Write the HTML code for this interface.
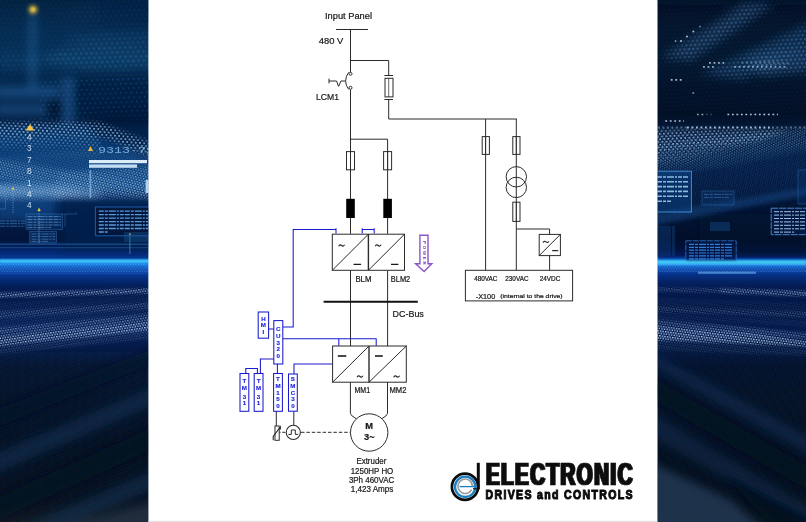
<!DOCTYPE html>
<html lang="en">
<head>
<meta charset="utf-8">
<title>Drive single-line diagram</title>
<style>
html,body{margin:0;padding:0;background:#fff;}
body{width:806px;height:522px;overflow:hidden;position:relative;font-family:"Liberation Sans",sans-serif;}
#stage{position:absolute;left:0;top:0;width:806px;height:522px;display:block;}
.k{stroke:#2b2b2b;fill:none;}
.b{stroke:#1a1ace;fill:none;stroke-width:1.05;}
.p{stroke:#8a55c6;fill:none;}
text{font-family:"Liberation Sans",sans-serif;}
.dg text{fill:#1a1a1a;stroke:#1a1a1a;stroke-width:0.22px;}
.t9{font-size:9.3px;}
.t8{font-size:8.2px;}
.dg .bt text{font-size:6.2px;font-weight:bold;fill:#2424e0;stroke:#2424e0;stroke-width:0.15px;text-anchor:middle;}
.dg .pw text{fill:#6a3cc0;stroke:none;}
.lg text{font-family:"Liberation Sans",sans-serif;font-weight:bold;fill:#0a0a0a;}
</style>
</head>
<body>
<svg id="stage" width="806" height="522" viewBox="0 0 806 522">
<defs>
<clipPath id="clipL"><rect x="0" y="0" width="148.6" height="522"/></clipPath>
<clipPath id="clipR"><rect x="657.3" y="0" width="148.7" height="522"/></clipPath>
<linearGradient id="gL" x1="0" y1="0" x2="0" y2="522" gradientUnits="userSpaceOnUse">
<stop offset="0.0000" stop-color="#03203f"/>
<stop offset="0.0575" stop-color="#052a50"/>
<stop offset="0.1149" stop-color="#063058"/>
<stop offset="0.1628" stop-color="#032246"/>
<stop offset="0.2107" stop-color="#021632"/>
<stop offset="0.2299" stop-color="#031c40"/>
<stop offset="0.2452" stop-color="#062e5e"/>
<stop offset="0.2682" stop-color="#083a72"/>
<stop offset="0.3161" stop-color="#093e7a"/>
<stop offset="0.3544" stop-color="#0a4686"/>
<stop offset="0.3793" stop-color="#062e66"/>
<stop offset="0.3946" stop-color="#042252"/>
<stop offset="0.4119" stop-color="#031a46"/>
<stop offset="0.4598" stop-color="#02143a"/>
<stop offset="0.4732" stop-color="#03205a"/>
<stop offset="0.4847" stop-color="#042a78"/>
<stop offset="0.4943" stop-color="#06388f"/>
<stop offset="0.4977" stop-color="#1a8ae0"/>
<stop offset="0.5004" stop-color="#3cc4f4"/>
<stop offset="0.5031" stop-color="#1a8eea"/>
<stop offset="0.5077" stop-color="#0f70d6"/>
<stop offset="0.5134" stop-color="#0c54ba"/>
<stop offset="0.5211" stop-color="#0a44a8"/>
<stop offset="0.5287" stop-color="#07348a"/>
<stop offset="0.5402" stop-color="#04266a"/>
<stop offset="0.5517" stop-color="#031c54"/>
<stop offset="0.5747" stop-color="#031a4c"/>
<stop offset="0.6322" stop-color="#042058"/>
<stop offset="0.6705" stop-color="#041a46"/>
<stop offset="0.6992" stop-color="#03132e"/>
<stop offset="0.7663" stop-color="#031025"/>
<stop offset="0.8621" stop-color="#020e1f"/>
<stop offset="0.9579" stop-color="#040e1d"/>
<stop offset="1.0000" stop-color="#0e151d"/>
</linearGradient>
<linearGradient id="gR" x1="0" y1="0" x2="0" y2="522" gradientUnits="userSpaceOnUse">
<stop offset="0.0000" stop-color="#031026"/>
<stop offset="0.0575" stop-color="#04162e"/>
<stop offset="0.1149" stop-color="#041830"/>
<stop offset="0.1724" stop-color="#03122a"/>
<stop offset="0.2203" stop-color="#021026"/>
<stop offset="0.2395" stop-color="#031634"/>
<stop offset="0.2682" stop-color="#031c44"/>
<stop offset="0.3161" stop-color="#031c46"/>
<stop offset="0.3544" stop-color="#03183e"/>
<stop offset="0.3927" stop-color="#021536"/>
<stop offset="0.4310" stop-color="#021230"/>
<stop offset="0.4598" stop-color="#020e2a"/>
<stop offset="0.4789" stop-color="#021240"/>
<stop offset="0.4904" stop-color="#031c60"/>
<stop offset="0.4958" stop-color="#0a4cac"/>
<stop offset="0.4981" stop-color="#1484dc"/>
<stop offset="0.5015" stop-color="#3cc8f4"/>
<stop offset="0.5061" stop-color="#1a8ae6"/>
<stop offset="0.5096" stop-color="#0f66d0"/>
<stop offset="0.5144" stop-color="#0b4cb2"/>
<stop offset="0.5211" stop-color="#093c9c"/>
<stop offset="0.5287" stop-color="#062e80"/>
<stop offset="0.5402" stop-color="#042262"/>
<stop offset="0.5517" stop-color="#031a50"/>
<stop offset="0.5939" stop-color="#031644"/>
<stop offset="0.6418" stop-color="#041c50"/>
<stop offset="0.6705" stop-color="#03163e"/>
<stop offset="0.6992" stop-color="#02102a"/>
<stop offset="0.7663" stop-color="#031023"/>
<stop offset="0.8621" stop-color="#020d1d"/>
<stop offset="0.9579" stop-color="#030d1a"/>
<stop offset="1.0000" stop-color="#060e18"/>
</linearGradient>
<filter id="bl05" x="-40%" y="-40%" width="180%" height="180%"><feGaussianBlur stdDeviation="0.5"/></filter>
<filter id="bl1" x="-40%" y="-40%" width="180%" height="180%"><feGaussianBlur stdDeviation="0.8"/></filter>
<filter id="bl2" x="-40%" y="-40%" width="180%" height="180%"><feGaussianBlur stdDeviation="2"/></filter>
<filter id="bl3" x="-40%" y="-40%" width="180%" height="180%"><feGaussianBlur stdDeviation="3"/></filter>
<filter id="bl4" x="-40%" y="-40%" width="180%" height="180%"><feGaussianBlur stdDeviation="4"/></filter>
<filter id="bl6" x="-40%" y="-40%" width="180%" height="180%"><feGaussianBlur stdDeviation="6"/></filter>
<filter id="bl8" x="-40%" y="-40%" width="180%" height="180%"><feGaussianBlur stdDeviation="8"/></filter>
<filter id="fat1" filterUnits="userSpaceOnUse" x="480" y="455" width="165" height="55"><feMorphology operator="dilate" radius="1.2 0.3"/></filter>
<filter id="fat2" filterUnits="userSpaceOnUse" x="480" y="455" width="165" height="55"><feMorphology operator="dilate" radius="0.6 0.15"/></filter>
<pattern id="pBokeh" width="5.2" height="9.2" patternUnits="userSpaceOnUse" patternTransform="rotate(-2)"><rect x="0" y="0" width="2.4" height="2.4" fill="#3f9eda"/><rect x="2.6" y="4.6" width="2.4" height="2.4" fill="#3f9eda"/></pattern>
<pattern id="pSparse" width="5.2" height="9.2" patternUnits="userSpaceOnUse" patternTransform="rotate(-2)"><rect x="0" y="0" width="1.2" height="1.2" fill="#2f7fd6"/><rect x="2.6" y="4.6" width="1.2" height="1.2" fill="#2f7fd6"/></pattern>
<pattern id="pBig" width="4.25" height="5.5" patternUnits="userSpaceOnUse" patternTransform="rotate(4)"><rect x="0" y="0" width="1.7" height="1.6" fill="#a8d2f2"/><rect x="2.125" y="2.75" width="1.7" height="1.6" fill="#a8d2f2"/></pattern>
<pattern id="pFineL" width="2.8" height="4.6" patternUnits="userSpaceOnUse" patternTransform="rotate(14)"><rect x="0" y="0" width="1.4" height="1.3" fill="#cfe6fb"/><rect x="1.4" y="2.3" width="1.4" height="1.3" fill="#cfe6fb"/></pattern>
<pattern id="pHor" width="2.6" height="4.4" patternUnits="userSpaceOnUse" patternTransform=""><rect x="0" y="0" width="1.3" height="1.1" fill="#7cc4ff"/><rect x="1.3" y="2.2" width="1.3" height="1.1" fill="#7cc4ff"/></pattern>
<pattern id="pLowL" width="2.6" height="4.8" patternUnits="userSpaceOnUse" patternTransform="rotate(-9)"><rect x="0" y="0" width="1.5" height="1.4" fill="#c4e2ff"/><rect x="1.3" y="2.4" width="1.5" height="1.4" fill="#c4e2ff"/></pattern>
<pattern id="pFaintL" width="2.3" height="4.6" patternUnits="userSpaceOnUse" patternTransform="rotate(-14)"><rect x="0" y="0" width="1" height="1" fill="#4d90d8"/><rect x="1.15" y="2.3" width="1" height="1" fill="#4d90d8"/></pattern>
<pattern id="pBigR" width="2.6" height="4.6" patternUnits="userSpaceOnUse" patternTransform="rotate(-24)"><rect x="0" y="0" width="1.35" height="1.3" fill="#8cc2ec"/><rect x="1.3" y="2.3" width="1.35" height="1.3" fill="#8cc2ec"/></pattern>
<pattern id="pFineR" width="2.6" height="4.4" patternUnits="userSpaceOnUse" patternTransform="rotate(-17)"><rect x="0" y="0" width="1.1" height="1.1" fill="#4f98dc"/><rect x="1.3" y="2.2" width="1.1" height="1.1" fill="#4f98dc"/></pattern>
<pattern id="pLowR" width="2.6" height="4.8" patternUnits="userSpaceOnUse" patternTransform="rotate(8)"><rect x="0" y="0" width="1.5" height="1.4" fill="#c4e2ff"/><rect x="1.3" y="2.4" width="1.5" height="1.4" fill="#c4e2ff"/></pattern>
<pattern id="pBigR2" width="4.2" height="5.4" patternUnits="userSpaceOnUse" patternTransform="rotate(-3)"><rect x="0" y="0" width="1.7" height="1.6" fill="#bcdcf6"/><rect x="2.1" y="2.7" width="1.7" height="1.6" fill="#bcdcf6"/></pattern>
<pattern id="pFaintR" width="2.3" height="4.6" patternUnits="userSpaceOnUse" patternTransform="rotate(18)"><rect x="0" y="0" width="1" height="1" fill="#4d90d8"/><rect x="1.15" y="2.3" width="1" height="1" fill="#4d90d8"/></pattern>
<pattern id="pBokehR" width="4.4" height="8" patternUnits="userSpaceOnUse" patternTransform="rotate(-3)"><rect x="0" y="0" width="2.2" height="2.2" fill="#6aaae0"/><rect x="2.2" y="4" width="2.2" height="2.2" fill="#6aaae0"/></pattern>
<mask id="mL1" maskUnits="userSpaceOnUse" x="-10" y="-10" width="170" height="110"><g filter="url(#bl4)"><rect x="-10" y="-10" width="170" height="95" fill="#fff" opacity="0.12"/><ellipse cx="105" cy="58" rx="62" ry="12" fill="#fff" opacity="0.6"/><ellipse cx="115" cy="40" rx="50" ry="7" fill="#fff" opacity="0.4"/><ellipse cx="110" cy="14" rx="45" ry="8" fill="#fff" opacity="0.14"/><ellipse cx="15" cy="62" rx="30" ry="8" fill="#fff" opacity="0.22"/></g></mask>
<mask id="mL3" maskUnits="userSpaceOnUse" x="-10" y="110" width="170" height="70"><g filter="url(#bl2)"><path d="M-10 122H100L160 146V160L100 137H-10Z" fill="#fff" opacity="0.8"/><path d="M-10 137L100 137L100 148L-10 146Z" fill="#fff" opacity="0.45"/><path d="M-10 146L100 148L100 158L-10 152Z" fill="#fff" opacity="0.18"/></g></mask>
<mask id="mL4" maskUnits="userSpaceOnUse" x="-10" y="130" width="170" height="90"><g filter="url(#bl2)"><path d="M-10 156L160 146L160 200L-10 204Z" fill="#fff" opacity="0.2"/><path d="M-10 158L160 186L160 200L-10 178Z" fill="#fff" opacity="0.5"/><path d="M60 172L160 166L160 199L50 198Z" fill="#fff" opacity="0.5"/><path d="M-10 183L80 186L80 198L-10 199Z" fill="#fff" opacity="0.55"/></g></mask>
<mask id="mL6" maskUnits="userSpaceOnUse" x="-10" y="270" width="170" height="100"><g filter="url(#bl1)"><path d="M-10 293L160 288L160 293L-10 298Z" fill="#fff" opacity="0.8"/><path d="M-10 302L160 295L160 304L-10 312Z" fill="#fff" opacity="0.12"/><path d="M-10 312L160 302L160 308L-10 319Z" fill="#fff" opacity="0.4"/><path d="M-10 319L160 308L160 314L-10 327Z" fill="#fff" opacity="0.15"/><path d="M-10 328L160 313L160 320L-10 336Z" fill="#fff" opacity="0.55"/><path d="M-10 337L160 320L160 330L-10 347Z" fill="#fff" opacity="0.9"/><path d="M-10 347L160 331L160 338L-10 355Z" fill="#fff" opacity="0.25"/></g></mask>
<mask id="mR2" maskUnits="userSpaceOnUse" x="640" y="100" width="180" height="120"><g filter="url(#bl2)"><path d="M650 127L815 127L815 133L650 146Z" fill="#fff" opacity="0.3"/><path d="M650 146L815 128L815 144L650 170Z" fill="#fff" opacity="0.55"/><path d="M650 170L815 144L815 150L650 180Z" fill="#fff" opacity="0.25"/></g></mask>
<mask id="mR2c" maskUnits="userSpaceOnUse" x="640" y="100" width="180" height="120"><g filter="url(#bl2)"><path d="M650 130L790 130L760 141L650 152Z" fill="#fff" opacity="0.7"/><path d="M650 152L760 141L700 156L650 164Z" fill="#fff" opacity="0.35"/></g></mask>
<mask id="mR2b" maskUnits="userSpaceOnUse" x="640" y="120" width="180" height="130"><g filter="url(#bl3)"><path d="M650 168L815 144L815 190L650 228Z" fill="#fff" opacity="0.3"/></g></mask>
<mask id="mR4" maskUnits="userSpaceOnUse" x="640" y="270" width="180" height="100"><g filter="url(#bl1)"><path d="M720 288L815 291L815 297L720 293Z" fill="#fff" opacity="0.7"/><path d="M650 287L720 288L720 293L650 292Z" fill="#fff" opacity="0.35"/><path d="M650 297L815 303L815 312L650 306Z" fill="#fff" opacity="0.12"/><path d="M650 306L815 312L815 318L650 312Z" fill="#fff" opacity="0.35"/><path d="M650 313L815 320L815 327L650 319Z" fill="#fff" opacity="0.14"/><path d="M650 319L760 328L815 334L815 340L650 326Z" fill="#fff" opacity="0.5"/><path d="M650 326L750 333L815 342L815 347L650 340Z" fill="#fff" opacity="0.92"/><path d="M650 341L815 348L815 356L650 350Z" fill="#fff" opacity="0.2"/></g></mask>
<mask id="mR1" maskUnits="userSpaceOnUse" x="640" y="-10" width="180" height="140"><g filter="url(#bl4)"><path d="M660 58L745 5L775 5L690 62Z" fill="#fff" opacity="0.3"/><path d="M700 74L815 22L815 44L745 80Z" fill="#fff" opacity="0.28"/><path d="M745 64L815 48L815 72L765 76Z" fill="#fff" opacity="0.3"/><rect x="650" y="-10" width="170" height="130" fill="#fff" opacity="0.03"/></g></mask>
</defs>
<rect x="0" y="0" width="806" height="522" fill="#ffffff"/>
<g id="bgLeft" clip-path="url(#clipL)">
<rect x="0" y="0" width="149" height="522" fill="url(#gL)"/>
<g filter="url(#bl4)">
<rect x="100" y="-4" width="60" height="26" fill="#061f44" opacity="0.7"/>
<rect x="70" y="78" width="90" height="42" fill="#041d42" opacity="0.85"/>
<rect x="-5" y="86" width="64" height="12" fill="#1f62a4" opacity="0.6"/>
<rect x="-5" y="103" width="52" height="13" fill="#1f62a4" opacity="0.55"/>
<rect x="29.5" y="14" width="6" height="76" fill="#2768a6" opacity="0.55"/>
<rect x="62" y="78" width="11" height="46" fill="#1a5490" opacity="0.7"/>
</g>
<g mask="url(#mL1)"><rect x="0" y="0" width="150" height="84" fill="url(#pBokeh)" filter="url(#bl1)"/></g>
<rect x="40" y="78" width="110" height="42" fill="url(#pSparse)" opacity="0.45"/>
<circle cx="33" cy="9.6" r="4.2" fill="#d9b43c" filter="url(#bl2)"/><circle cx="33" cy="9.6" r="2" fill="#e8c84c" filter="url(#bl1)"/>
<path d="M92 112H152V158L92 134Z" fill="#021838" opacity="0.6" filter="url(#bl3)"/>
<g mask="url(#mL4)"><rect x="0" y="135" width="150" height="75" fill="url(#pFineL)"/></g>
<g mask="url(#mL3)"><rect x="0" y="118" width="150" height="50" fill="url(#pBig)"/></g>
<g filter="url(#bl4)"><path d="M-10 186L60 188L100 192L100 197L-10 197Z" fill="#9fd4ff" opacity="0.5"/></g>
<g filter="url(#bl4)">
<rect x="62" y="202" width="95" height="48" fill="#05234e" opacity="0.8"/>
<rect x="-5" y="198" width="60" height="24" fill="#1560a8" opacity="0.45"/>
</g>
<g font-size="9.4" text-anchor="middle" fill="#dcefff" opacity="0.9"><text x="29.4" y="140" textLength="4.6" lengthAdjust="spacingAndGlyphs">4</text><text x="29.4" y="151.4" textLength="4.6" lengthAdjust="spacingAndGlyphs">3</text><text x="29.4" y="162.8" textLength="4.6" lengthAdjust="spacingAndGlyphs">7</text><text x="29.4" y="174.2" textLength="4.6" lengthAdjust="spacingAndGlyphs">8</text><text x="29.4" y="185.6" textLength="4.6" lengthAdjust="spacingAndGlyphs">1</text><text x="29.4" y="197" textLength="4.6" lengthAdjust="spacingAndGlyphs">4</text><text x="29.4" y="208" textLength="4.6" lengthAdjust="spacingAndGlyphs">4</text></g>
<text x="98" y="153.4" font-size="9.6" fill="#8cc6ee" style="font-family:'Liberation Mono',monospace" textLength="56" lengthAdjust="spacingAndGlyphs" opacity="0.8">9313·71</text>
<path d="M25.8 130.4L30 124.2L34.4 130.4Z" fill="#f5c544"/>
<path d="M88 151L90.4 146L93 151Z" fill="#f0b63c"/>
<path d="M11.8 189.4L13 186.6L14.4 189.4Z" fill="#f1d04a"/>
<path d="M37.4 211L39 207.6L40.8 211Z" fill="#f1c040"/>
<rect x="89" y="160" width="58" height="3.2" fill="#e6f5ff" opacity="0.95"/>
<rect x="89" y="164.4" width="48" height="3.4" fill="#d5edff" opacity="0.9"/>
<rect x="89.6" y="170" width="1.6" height="28" fill="#9ccdf5" opacity="0.6"/>
<rect x="145.6" y="180" width="3" height="13" fill="#d5edff" opacity="0.8"/>
<path d="M152 207H95.4V235.8H152" fill="#021638" fill-opacity="0.85" stroke="#1f62b4" stroke-width="0.9"/>
<path d="M98.8 211.2H148M98.8 214.7H148M98.8 218.1H148M98.8 221.6H148M98.8 225H148M98.8 228.5H148M98.8 232H107.656" stroke="#62a8ee" stroke-width="1.3" stroke-dasharray="5 1 3 1 7 1 2 1 4 1" opacity="0.9" fill="none"/>
<rect x="26" y="214" width="36.4" height="15.4" fill="#0e4384" fill-opacity="0.4" stroke="#3f86cc" stroke-width="0.5" opacity="0.8"/>
<path d="M27.5 216.6H61M27.5 219.4H61M27.5 222.2H61M27.5 225H61M27.5 227.6H50.95" stroke="#7db6ea" stroke-width="0.8" stroke-dasharray="5 1 3 1 7 1 2 1 4 1" opacity="0.7" fill="none"/>
<rect x="29.8" y="231.4" width="26.6" height="11.6" fill="#0f4688" fill-opacity="0.5" stroke="#3f86cc" stroke-width="0.5" opacity="0.8"/>
<path d="M31.5 234H55M31.5 236.6H55M31.5 239.2H55M31.5 241.4H47.95" stroke="#6aa6e0" stroke-width="0.8" stroke-dasharray="5 1 3 1 7 1 2 1 4 1" opacity="0.6" fill="none"/>
<rect x="-2" y="187" width="7.4" height="22" fill="none" stroke="#4d8fd0" stroke-width="0.6" opacity="0.7"/>
<path d="M0 221H26M0 223.6H26M0 226.2H23.4" stroke="#6aa6e0" stroke-width="0.8" stroke-dasharray="5 1 3 1 7 1 2 1 4 1" opacity="0.5" fill="none"/>
<path d="M13 190V213M39 211V243" stroke="#7ab8f0" stroke-width="0.9" stroke-dasharray="1 1.4" opacity="0.8"/>
<path d="M62.4 214H76.5V212.6M65 214V227" stroke="#3c7fc4" stroke-width="0.6" fill="none" opacity="0.7"/>
<rect x="-5" y="259.5" width="160" height="6" fill="#1f86ee" opacity="0.4" filter="url(#bl1)"/>
<rect x="0" y="260" width="149" height="2.4" fill="#48d2f6" opacity="0.85" filter="url(#bl1)"/>
<rect x="0" y="243.6" width="149" height="1.2" fill="#2d78c8" opacity="0.55"/><rect x="0" y="247.2" width="149" height="1" fill="#2d78c8" opacity="0.45"/>
<rect x="129.4" y="234" width="1" height="20" fill="#5aa6e6" opacity="0.6"/><path d="M129.9 232.6l-1.3 2.2h2.6z" fill="#e2b23c"/>
<rect x="124" y="232" width="25" height="10" fill="#1a5a9c" opacity="0.35"/>
<rect x="0" y="262.5" width="149" height="11" fill="url(#pHor)" opacity="0.4"/>
<g mask="url(#mL6)"><rect x="0" y="284" width="150" height="78" fill="url(#pLowL)"/></g>
<rect x="0" y="352" width="149" height="170" fill="url(#pFaintL)" opacity="0.18"/>
<g filter="url(#bl4)">
<path d="M-10 412L160 346L160 360L-10 430Z" fill="#020e26" opacity="0.6"/>
<path d="M-10 456L160 384L160 402L-10 476Z" fill="#1c426c" opacity="0.38"/>
<path d="M-10 500L160 424L160 446L-10 524Z" fill="#020c22" opacity="0.6"/>
<path d="M-10 540L160 468L160 486L-10 560Z" fill="#1d3c60" opacity="0.45"/>
<path d="M30 535L160 500L160 535Z" fill="#34465c" opacity="0.45"/>
</g>
</g>
<g id="bgRight" clip-path="url(#clipR)">
<rect x="657" y="0" width="149" height="522" fill="url(#gR)"/>
<g filter="url(#bl4)">
<path d="M662 56L742 5L772 5L690 60Z" fill="#2a5a90" opacity="0.3"/>
<path d="M700 74L810 22L810 44L742 80Z" fill="#24548c" opacity="0.3"/>
<path d="M745 60L810 46L810 70L762 76Z" fill="#2a5686" opacity="0.4"/>
<path d="M657 -5H810V5H657Z" fill="#04152e" opacity="0.6"/>
</g>
<g mask="url(#mR1)"><rect x="657" y="0" width="150" height="122" fill="url(#pBokehR)" filter="url(#bl05)"/></g>
<g stroke="#cfe6fb" stroke-width="1.7" stroke-dasharray="1.8 2.7" fill="none">
<path d="M709 62.8H724" opacity="0.75"/><path d="M741.5 62.8H789" opacity="0.3"/>
<path d="M703 66.8H714" opacity="0.7"/><path d="M734 66.8H786" opacity="0.6"/>
<path d="M670.8 79.8H683" opacity="0.8"/><path d="M692.4 93H694.2" opacity="0.6"/>
<path d="M697 114.5H706" opacity="0.7"/><path d="M706 114.5H712" opacity="0.25"/><path d="M727.4 114.5H778" opacity="0.85"/>
<path d="M665.3 121H684" opacity="0.85"/>
<path d="M687 127.6H772" opacity="0.8" stroke-width="2"/><path d="M772 127.6H806" opacity="0.4" stroke-width="2"/><path d="M658 127.6H687" opacity="0.35" stroke-width="2"/>
</g>
<g fill="#cfe6fb"><circle cx="681" cy="41" r="1" opacity="0.8"/><circle cx="687" cy="36.4" r="1" opacity="0.8"/><circle cx="693.4" cy="31.4" r="1" opacity="0.8"/><circle cx="700" cy="26.6" r="0.9" opacity="0.6"/><circle cx="675.6" cy="41" r="0.9" opacity="0.6"/></g>
<g mask="url(#mR2b)"><rect x="650" y="130" width="160" height="110" fill="url(#pFineR)"/></g>
<g mask="url(#mR2)"><rect x="650" y="118" width="160" height="87" fill="url(#pBigR)"/></g>
<g mask="url(#mR2c)"><rect x="650" y="125" width="160" height="45" fill="url(#pBigR2)"/></g>
<g filter="url(#bl4)">
<rect x="700" y="214" width="120" height="42" fill="#020f2c" opacity="0.6"/>
</g>
<path d="M650 214L815 186L815 194L650 226Z" fill="#1a5aa4" opacity="0.35" filter="url(#bl2)"/>
<rect x="652" y="171.2" width="39.4" height="40.8" fill="#0b4890" fill-opacity="0.5" stroke="#4f9ee6" stroke-width="0.9" opacity="0.9"/>
<path d="M657 177H688M657 181.8H688M657 186.6H688M657 191.4H688M657 196.2H688M657 201.2H670.95" stroke="#9fd4f6" stroke-width="1.6" stroke-dasharray="5 1 3 1 7 1 2 1 4 1" opacity="0.85" fill="none"/>
<rect x="702" y="191" width="32" height="14" fill="#12488c" fill-opacity="0.35" stroke="#2f72b8" stroke-width="0.6" opacity="0.7"/>
<path d="M704 194.4H732M704 197.4H729.2" stroke="#4f94d8" stroke-width="0.9" stroke-dasharray="5 1 3 1 7 1 2 1 4 1" opacity="0.5" fill="none"/>
<rect x="771.2" y="208.2" width="40" height="26.5" fill="#031a48" stroke="#5a9ee0" stroke-width="0.9" stroke-dasharray="7 1" opacity="0.9"/>
<path d="M774 211.7H808M774 215.1H808M774 218.5H808M774 221.9H808M774 225.3H808M774 228.8H808M774 232.1H795.08" stroke="#c0e0f8" stroke-width="1" stroke-dasharray="5 1 3 1 7 1 2 1 4 1" opacity="0.85" fill="none"/>
<rect x="798" y="170" width="10" height="34" fill="#0a3a78" fill-opacity="0.4" stroke="#2f72b8" stroke-width="0.6" opacity="0.7"/>
<rect x="710" y="222" width="20" height="9" fill="#124a8c" opacity="0.45" filter="url(#bl05)"/>
<rect x="685.8" y="240.8" width="50.4" height="21" fill="#04184a" fill-opacity="0.7" stroke="#2f72c4" stroke-width="0.9" stroke-dasharray="6 1" opacity="0.95"/>
<path d="M689 244.4H733M689 247.3H733M689 250.1H733M689 253H733M689 255.9H733M689 258.8H724.2" stroke="#3388ea" stroke-width="1.2" stroke-dasharray="5 1 3 1 7 1 2 1 4 1" opacity="0.9" fill="none"/>
<rect x="657" y="226" width="14" height="30" fill="#0f4282" opacity="0.4"/>
<rect x="672" y="226" width="3" height="30" fill="#14508f" opacity="0.35"/>
<rect x="650" y="260" width="160" height="6" fill="#1f86ee" opacity="0.4" filter="url(#bl1)"/>
<rect x="657" y="260.8" width="149" height="3.4" fill="#48d2f6" opacity="0.85" filter="url(#bl1)"/>
<rect x="657" y="263" width="149" height="9" fill="url(#pHor)" opacity="0.4"/>
<rect x="698" y="271.6" width="58" height="2.2" fill="#6fb6f2" opacity="0.6"/>
<g mask="url(#mR4)"><rect x="650" y="284" width="160" height="78" fill="url(#pLowR)"/></g>
<rect x="657" y="350" width="149" height="172" fill="url(#pFaintR)" opacity="0.16"/>
<g filter="url(#bl4)">
<path d="M650 352L815 440L815 458L650 364Z" fill="#1f4a80" opacity="0.3"/>
<path d="M650 376L815 470L815 495L650 398Z" fill="#020c22" opacity="0.6"/>
<path d="M650 412L815 510L815 530L650 436Z" fill="#173e70" opacity="0.3"/>
<path d="M650 462L730 500L770 535L650 535Z" fill="#2f4868" opacity="0.6"/>
<path d="M720 470L815 520L815 535L780 535Z" fill="#020c20" opacity="0.7"/>
</g>
</g>
<rect x="148.6" y="0" width="508.7" height="522" fill="#ffffff"/>
<rect x="148.6" y="520.8" width="508.7" height="1.2" fill="#e2e2e2"/>
<!-- ===== diagram ===== -->
<g id="diagram" class="dg" opacity="0.999" stroke-width="1">
<text x="325" y="19.3" class="t9" textLength="47" lengthAdjust="spacingAndGlyphs">Input Panel</text>
<text x="318.8" y="44.2" class="t9" textLength="24.5" lengthAdjust="spacingAndGlyphs">480 V</text>
<text x="316" y="99.6" class="t9" textLength="23" lengthAdjust="spacingAndGlyphs">LCM1</text>
<path class="k" d="M336 29.5H368"/>
<path class="k" d="M350.5 29.5V72.4M350.5 89.4V233.8"/>
<circle class="k" cx="350.5" cy="73.8" r="1.5" fill="#fff"/>
<circle class="k" cx="350.5" cy="87.8" r="1.5" fill="#fff"/>
<path class="k" d="M348.6 72.4Q342.6 81 348.6 89.4"/>
<path class="k" d="M329 78.6V83.4M329 81H336.5L338.6 86.4L341 81H345.2"/>
<!-- branch to fuse -->
<path class="k" d="M350.5 60.5H388.7V75.5M388.7 99.5V119H516.8"/>
<path class="k" d="M384.4 75.5H393M384.4 99.5H393"/>
<rect class="k" x="385" y="78.3" width="8" height="18.6"/>
<path class="k" d="M388.7 78.3V97" stroke-width="0.7"/>
<!-- two fuses + reactors -->
<path class="k" d="M350.5 139.2H387.6V233.8"/>
<rect class="k" x="346.5" y="151.6" width="8" height="18.2" fill="#fff"/>
<rect class="k" x="383.6" y="151.6" width="8" height="18.2" fill="#fff"/>
<path class="k" d="M350.5 151.6V169.8M387.6 151.6V169.8" stroke-width="0.8"/>
<rect x="346.2" y="198.8" width="8.6" height="19.2" fill="#000"/>
<rect x="383.3" y="198.8" width="8.6" height="19.2" fill="#000"/>
<!-- BLM -->
<rect class="k" x="332.3" y="234.2" width="72.2" height="36.1"/>
<path class="k" d="M368.4 234.2V270.3" stroke-width="1.4"/>
<path class="k" d="M332.3 270.3L368.4 234.2M368.4 270.3L404.5 234.2"/>
<path class="k" d="M338.6 246.2q1.5-2.2 3-.7t3-.7M375.2 246.2q1.5-2.2 3-.7t3-.7" stroke-width="1.15"/>
<path class="k" d="M353.5 264.4H361M391 264.4H398.4" style="stroke:#1a1a1a;stroke-width:1.2"/>
<text x="355.4" y="281.6" class="t8" textLength="16" lengthAdjust="spacingAndGlyphs">BLM</text>
<text x="390.8" y="281.6" class="t8" textLength="19.4" lengthAdjust="spacingAndGlyphs">BLM2</text>
<path class="k" d="M350.5 270.3V346M387.6 270.3V346"/>
<path d="M323.6 301.8H417.8" stroke="#111" stroke-width="2" fill="none"/>
<text x="392.6" y="316.5" class="t9" textLength="31.2" lengthAdjust="spacingAndGlyphs">DC-Bus</text>
<!-- MM -->
<rect class="k" x="332.6" y="346" width="73.7" height="36.2" fill="#fff"/>
<path class="k" d="M369 346V382.2" stroke-width="1.4"/>
<path class="k" d="M332.6 382.2L369 346M369 382.2L406.3 346"/>
<path class="k" d="M337.8 356H346.3M375 356H382.8" style="stroke:#111;stroke-width:1.6"/>
<path class="k" d="M357 377.2q1.5-2.2 3-.7t3-.7M393.6 377.2q1.5-2.2 3-.7t3-.7" stroke-width="1.15"/>
<text x="354.5" y="392.7" class="t8" textLength="15.6" lengthAdjust="spacingAndGlyphs">MM1</text>
<text x="389.4" y="392.7" class="t8" textLength="17" lengthAdjust="spacingAndGlyphs">MM2</text>
<!-- motor -->
<path class="k" d="M350.4 382.2V413.5Q351 416 356 418.5M387.5 382.2V413.5Q387 416 382 418.5"/>
<circle class="k" cx="369.2" cy="432.5" r="18.7" fill="#fff"/>
<text x="369.2" y="428.7" font-size="9.3" font-weight="bold" text-anchor="middle">M</text>
<text x="369.4" y="439.6" font-size="9.3" font-weight="bold" text-anchor="middle">3~</text>
<path class="k" d="M301 432.3H350.5" stroke-dasharray="3.5 1.9"/>
<circle class="k" cx="293.3" cy="432.4" r="7.1" stroke-width="1.1"/>
<path class="k" d="M288.4 434.4H291.3V430H295.3V434.4H298.2"/>
<path class="k" d="M279.4 432.3H280.6M282.3 432.3H285.4"/>
<path class="k" d="M293.8 411.4V425.3M276.3 411.4V426"/>
<rect class="k" x="275" y="426" width="4.2" height="14.3"/>
<path class="k" d="M273.2 440.3V436.5L280.4 426.8V429.4" stroke-width="1.1"/>
<text x="371.4" y="463.9" class="t8" text-anchor="middle" textLength="30" lengthAdjust="spacingAndGlyphs">Extruder</text>
<text x="372" y="473.6" class="t8" text-anchor="middle" textLength="42.6" lengthAdjust="spacingAndGlyphs">1250HP HO</text>
<text x="371.6" y="483" class="t8" text-anchor="middle" textLength="45.4" lengthAdjust="spacingAndGlyphs">3Ph 460VAC</text>
<text x="372" y="492.4" class="t8" text-anchor="middle" textLength="42.6" lengthAdjust="spacingAndGlyphs">1,423 Amps</text>
<!-- right branch -->
<path class="k" d="M485.6 119V270.3M516.3 119V270.3M516.3 229H549.6V234.4M549.6 255.6V270.3"/>
<rect class="k" x="482.2" y="136.6" width="7.2" height="17.8" fill="#fff"/>
<rect class="k" x="512.8" y="136.6" width="7.2" height="17.8" fill="#fff"/>
<rect class="k" x="512.8" y="202.2" width="7.2" height="19.2" fill="#fff"/>
<path class="k" d="M485.6 136.6V154.4M516.3 136.6V154.4M516.3 202.2V221.4" stroke-width="0.8"/>
<circle class="k" cx="516.3" cy="176.8" r="10.2" fill="#fff"/>
<circle class="k" cx="516.3" cy="187.4" r="10.2"/>
<rect class="k" x="539.2" y="234.4" width="21.2" height="21.2" fill="#fff"/>
<path class="k" d="M539.2 255.6L560.4 234.4"/>
<path class="k" d="M543 242.6q1.5-2.2 3-.7t3-.7" stroke-width="1.15"/>
<path class="k" d="M552.2 250.6H558.2" stroke-width="1.3"/>
<rect class="k" x="465.4" y="270.3" width="107.2" height="30.6" fill="#fff"/>
<text x="474.2" y="280.7" font-size="6.3" textLength="23.2" lengthAdjust="spacingAndGlyphs">480VAC</text>
<text x="505.3" y="280.7" font-size="6.3" textLength="23.2" lengthAdjust="spacingAndGlyphs">230VAC</text>
<text x="539.7" y="280.7" font-size="6.3" textLength="20.6" lengthAdjust="spacingAndGlyphs">24VDC</text>
<text x="475.7" y="298.5" font-size="7.4" textLength="19.6" lengthAdjust="spacingAndGlyphs">-X100</text>
<text x="500.3" y="298.3" font-size="6" textLength="62.3" lengthAdjust="spacingAndGlyphs">(internal to the drive)</text>
<!-- blue control wiring -->
<path class="b" d="M336 233.6V228.2M336 229.4H293.2V327H282.8"/>
<path class="b" d="M362.2 233.6V228.2M374.2 233.6V228.2M362.2 229.4H374.2"/>
<path class="b" d="M282.8 338.7H376.2V345.8M338.8 338.7V345.8"/>
<path class="b" d="M268.6 329H273.8"/>
<path class="b" d="M294 374V364H332.6"/>
<path class="b" d="M273.8 359H260.4V373.5M245.8 373.5V368.5H257.4V373.5M277.4 364V373.5"/>
<rect class="b" x="258.2" y="312" width="10.4" height="26.2" fill="#fff"/>
<rect class="b" x="273.8" y="320.6" width="9" height="43.4" fill="#fff"/>
<rect class="b" x="240" y="373.5" width="8.8" height="37.8" fill="#fff"/>
<rect class="b" x="254.2" y="373.5" width="8.8" height="37.8" fill="#fff"/>
<rect class="b" x="273.6" y="373.5" width="8.8" height="37.8" fill="#fff"/>
<rect class="b" x="288.5" y="374" width="8.8" height="37.2" fill="#fff"/>
<g class="bt">
<text x="263.4" y="320.9">H</text><text x="263.4" y="327.2">M</text><text x="263.4" y="333.9">I</text>
<text x="278.3" y="330.8">C</text><text x="278.3" y="337.7">U</text><text x="278.3" y="344.6">3</text><text x="278.3" y="350.9">2</text><text x="278.3" y="357.8">0</text>
<text x="244.4" y="383.2">T</text><text x="244.4" y="390.3">M</text><text x="244.4" y="398.6">3</text><text x="244.4" y="404.9">1</text>
<text x="258.6" y="383.2">T</text><text x="258.6" y="390.3">M</text><text x="258.6" y="398.6">3</text><text x="258.6" y="404.9">1</text>
<text x="278" y="381">T</text><text x="278" y="387.8">M</text><text x="278" y="394.5">1</text><text x="278" y="401.2">5</text><text x="278" y="407.7">0</text>
<text x="292.9" y="381">S</text><text x="292.9" y="387.8">M</text><text x="292.9" y="394.5">C</text><text x="292.9" y="401.2">3</text><text x="292.9" y="407.7">0</text>
</g>
<!-- purple arrow -->
<path class="p" d="M419.9 235.2H428V263.8H431.8L424.1 271.6L415.6 263.8H419.9Z" stroke-width="1.4"/>
<g class="pw"><text transform="translate(422.9,241) rotate(90)" font-size="4.3" font-weight="bold" textLength="23.6" lengthAdjust="spacing">POWER</text></g>
</g>
<!-- ===== logo ===== -->
<g id="logo" class="lg" opacity="0.999">
<g filter="url(#fat1)"><text transform="translate(485.9,484.9) scale(0.66,1)" font-size="31" textLength="222.121" lengthAdjust="spacing" stroke="#0a0a0a" stroke-width="0.7">ELECTRONIC</text></g>
<text transform="translate(485.6,499.3) scale(0.8,1)" font-size="13.2" textLength="183.75" lengthAdjust="spacing" stroke="#0a0a0a" stroke-width="1.05">DRIVES and CONTROLS</text>
<circle cx="465" cy="486.8" r="13.1" fill="#fff" stroke="#0a0a0a" stroke-width="2.7"/>
<rect x="476.8" y="462.8" width="3" height="26" fill="#0a0a0a"/>
<circle cx="465.2" cy="486.8" r="10.2" fill="none" stroke="#1b7fc1" stroke-width="2.3"/>
<path d="M471.6 489.6A7.2 7.2 0 1 1 472.4 486.4" fill="none" stroke="#9a9a9a" stroke-width="1.5"/>
<path d="M459.6 486.6H476.4" stroke="#1b7fc1" stroke-width="1.3" fill="none"/>
<path d="M473 488.8H479.8" stroke="#0a0a0a" stroke-width="1.1" fill="none"/>
</g>
</svg>
</body>
</html>
